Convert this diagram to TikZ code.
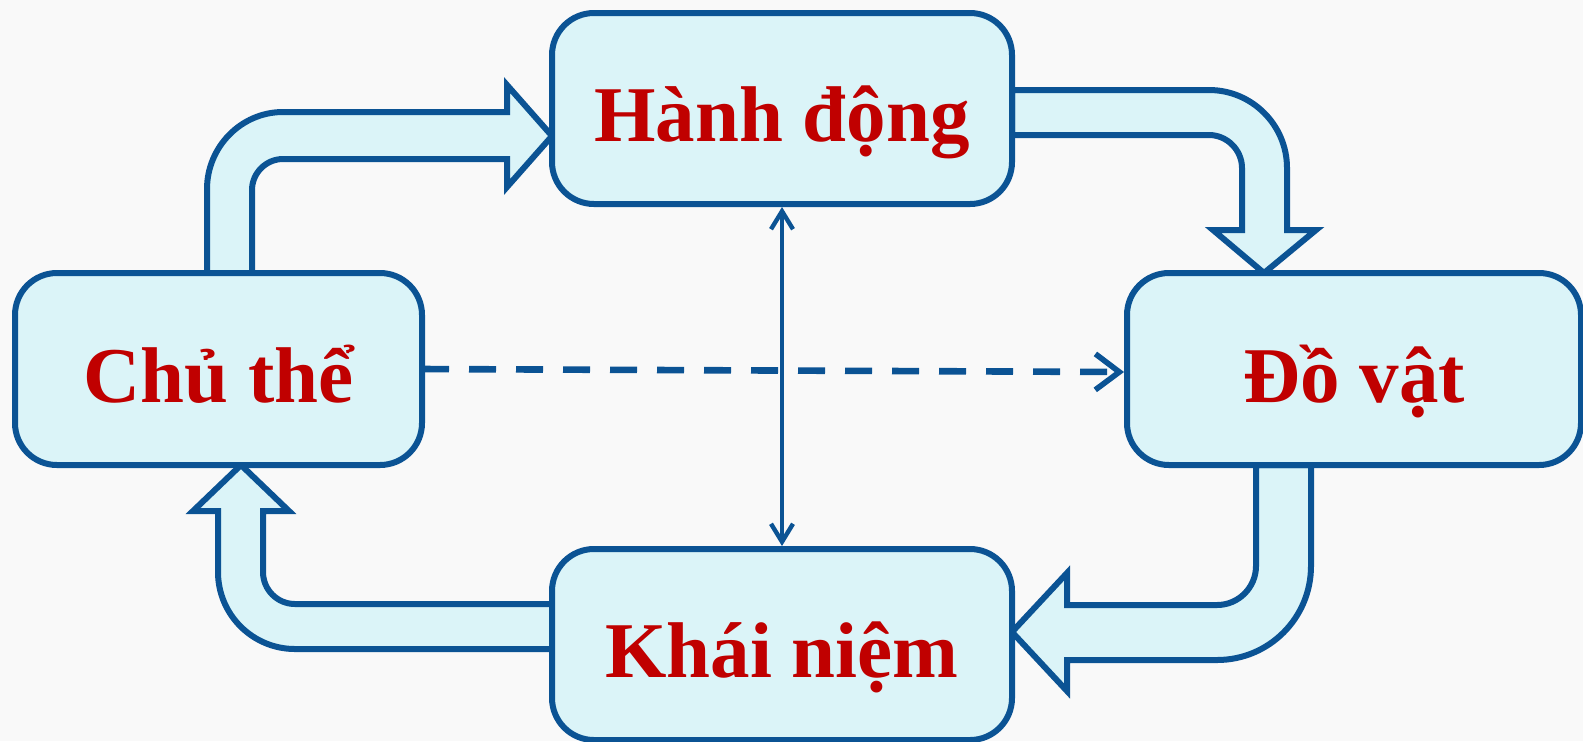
\documentclass[tikz,border=0pt]{standalone}
\usepackage{fontspec}
\setmainfont{Liberation Serif}
\usetikzlibrary{arrows.meta}
\definecolor{edge}{HTML}{0B5394}
\definecolor{boxfill}{HTML}{DBF4F8}
\definecolor{txt}{HTML}{C00000}
\definecolor{bg}{HTML}{F9F9F9}
\begin{document}
\begin{tikzpicture}[x=0.5pt,y=-0.5pt,
  box/.style={draw=edge, fill=boxfill, line width=3pt, rounded corners=21pt,
    minimum height=96pt, inner sep=0pt, outer sep=0pt},
  blockarrow/.style={draw=edge, fill=boxfill, line width=3pt, line join=miter},
  lbl/.style={anchor=base, text=txt, font=\fontsize{39.5}{46}\selectfont\bfseries, inner sep=0pt},
  thinarrow/.style={draw=edge, line width=2.2pt, {Straight Barb[length=9pt,width=11pt,line width=2.2pt]}-{Straight Barb[length=9pt,width=11pt,line width=2.2pt]}},
  dasharrow/.style={draw=edge, line width=3.3pt, dash pattern=on 13.5pt off 10pt, -{Straight Barb[length=12pt,width=18pt,line width=2.8pt]}},
]
\fill[bg] (0,0) rectangle (1583,741);
\useasboundingbox (0,0) rectangle (1583,741);

% block arrows
\draw[blockarrow] (207,273) -- (207,189) .. controls (207,147) and (241,112) .. (283,112)
  -- (507,112) -- (507,85) -- (552,136) -- (507,187) -- (507,159) -- (283,159)
  .. controls (266,159) and (252,173) .. (252,190) -- (252,273) -- cycle;
\draw[blockarrow] (1012,90) -- (1209,90) .. controls (1252,90) and (1287,125) .. (1287,168)
  -- (1287,230) -- (1316,230) -- (1264,273) -- (1213,230) -- (1242,230) -- (1242,168)
  .. controls (1242,150) and (1227,135) .. (1209,135) -- (1012,135) -- cycle;
\draw[blockarrow] (1311,465) -- (1311,566) .. controls (1311,618) and (1269,660) .. (1217,660)
  -- (1067,660) -- (1067,691) -- (1012,632) -- (1067,573) -- (1067,605) -- (1217,605)
  .. controls (1238.5,605) and (1256,587.5) .. (1256,566) -- (1256,465) -- cycle;
\draw[blockarrow] (552,649) -- (295,649) .. controls (252.5,649) and (218,614.5) .. (218,572)
  -- (218,511) -- (193,511) -- (241,465) -- (289,511) -- (263,511) -- (263,572)
  .. controls (263,589.7) and (277.3,604) .. (295,604) -- (552,604) -- cycle;

% boxes
\node[box, minimum width=230pt, minimum height=95.5pt] (hanh) at (782,108.5) {};
\node[box, minimum width=203.5pt] (chu) at (218.5,369) {};
\node[box, minimum width=227pt] (do) at (1354,369) {};
\node[box, minimum width=230pt, minimum height=95.5pt] (khai) at (782,644.5) {};

% labels
\node[lbl] (thanh) at ([yshift=-16.5pt]hanh.center) {Hành động};
\node[lbl] (tchu) at ([yshift=-16.5pt]chu.center) {Chủ thể};
\node[lbl] (tdo) at ([yshift=-16.5pt]do.center) {Đồ vật};
\node[lbl] (tkhai) at ([yshift=-16.5pt]khai.center) {Khái niệm};

% connectors
\draw[thinarrow] ([yshift=-1.5pt]hanh.south) -- ([yshift=1.5pt]khai.north);
\draw[dasharrow] (chu.east) -- ([xshift=-1.5pt,yshift=-1.5pt]do.west);
\end{tikzpicture}
\end{document}
